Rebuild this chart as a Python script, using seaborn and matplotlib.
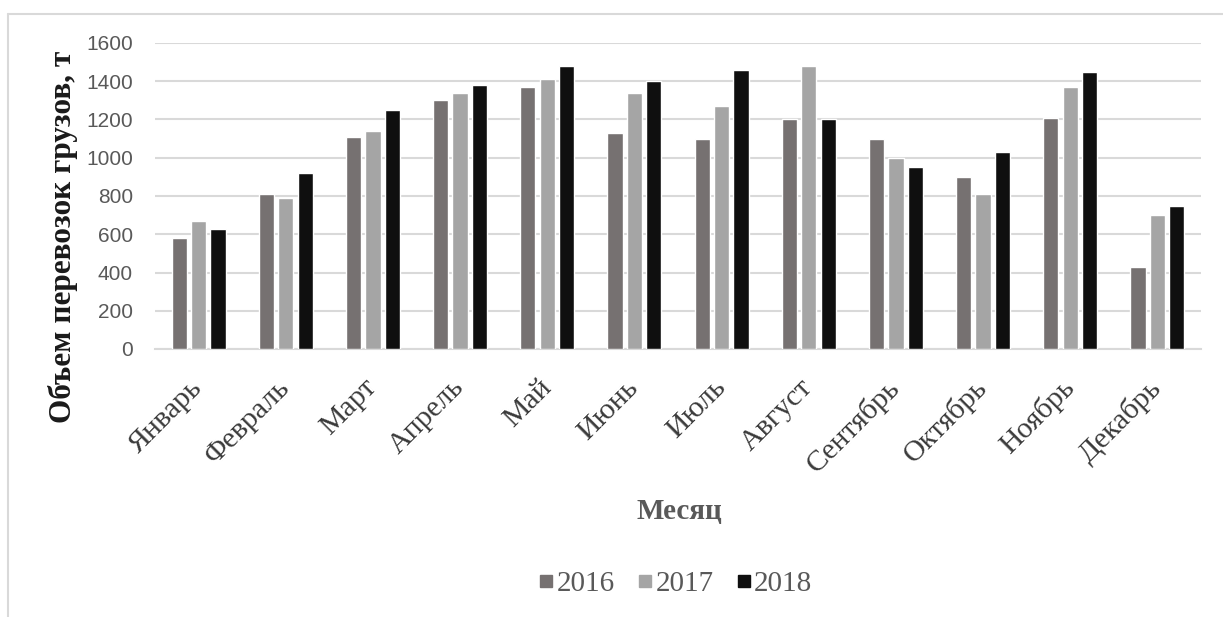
import matplotlib
matplotlib.use("Agg")
import matplotlib.pyplot as plt
from matplotlib.lines import Line2D
import seaborn as sns
import pandas as pd

months = ["Январь", "Февраль", "Март", "Апрель", "Май", "Июнь",
          "Июль", "Август", "Сентябрь", "Октябрь", "Ноябрь", "Декабрь"]
years = ["2016", "2017", "2018"]
v2016 = [580, 810, 1110, 1300, 1370, 1130, 1100, 1200, 1100, 900, 1210, 430]
v2017 = [670, 790, 1140, 1340, 1410, 1340, 1270, 1480, 1000, 810, 1370, 700]
v2018 = [630, 920, 1250, 1380, 1480, 1400, 1460, 1200, 950, 1030, 1450, 750]
yticks = [0, 200, 400, 600, 800, 1000, 1200, 1400, 1600]

df = pd.DataFrame({
    "Месяц": months * 3,
    "Год": [y for y in years for _ in months],
    "Объем": v2016 + v2017 + v2018,
})

palette = {"2016": "#767171", "2017": "#a5a5a5", "2018": "#0f0f0f"}

sns.set_theme(style="white")
plt.rcParams["font.family"] = ["Liberation Serif", "DejaVu Serif"]

W, H = 1223, 617
fig = plt.figure(figsize=(W / 100, H / 100), dpi=100)
ax = fig.add_axes([155 / W, 1 - 349 / H, (1201 - 155) / W, (349 - 43) / H])

sns.barplot(data=df, x="Месяц", y="Объем", hue="Год", order=months,
            hue_order=years, palette=palette, width=0.67, gap=0.22,
            saturation=1, ax=ax, legend=False, zorder=3)

ax.set_ylim(0, 1600)
ax.set_xlim(-0.5, len(months) - 0.5)
ax.set_yticks(yticks)
ax.set_yticklabels([str(t) for t in yticks], family="Liberation Sans",
                   fontsize=15, color="#595959")
ax.yaxis.grid(True, color="#d9d9d9", linewidth=1.5, zorder=0)
ax.set_axisbelow(True)
for side in ["left", "right", "top"]:
    ax.spines[side].set_visible(False)
ax.spines["bottom"].set_color("#d9d9d9")
ax.spines["bottom"].set_linewidth(1.5)
ax.tick_params(axis="y", length=0, pad=16)

ax.set_xticks(range(len(months)))
ax.set_xticklabels(months, rotation=45, ha="right", va="center",
                   rotation_mode="anchor", fontsize=21.5, color="#3a3a3a",
                   family="Liberation Serif")
ax.tick_params(axis="x", length=0, pad=25)

ax.set_ylabel("")
ax.set_xlabel("")
fig.text(63 / W, 1 - 237 / H, "Объем перевозок грузов, т", rotation=90,
         ha="center", va="center", fontsize=22.5, fontweight="bold",
         color="#1a1a1a")
fig.text(679 / W, 1 - 511 / H, "Месяц", ha="center", va="center",
         fontsize=21, fontweight="bold", color="#595959")

handles = [Line2D([0], [0], marker="s", linestyle="", markersize=9,
                  markerfacecolor=palette[y], markeredgecolor=palette[y])
           for y in years]
fig.legend(handles, years, loc="center", bbox_to_anchor=(672 / W, 1 - 584 / H),
           ncol=3, frameon=False, fontsize=21, handletextpad=-0.15,
           columnspacing=0.55, handlelength=1.0, labelcolor="#595959")

# outer frame
fig.add_artist(Line2D([8 / W, 8 / W], [0, 1 - 14 / H],
                      transform=fig.transFigure, color="#d9d9d9", lw=1.5))
fig.add_artist(Line2D([8 / W, 1], [1 - 14 / H, 1 - 14 / H],
                      transform=fig.transFigure, color="#d9d9d9", lw=1.5))

fig.savefig("out.png", dpi=100, facecolor="white")
